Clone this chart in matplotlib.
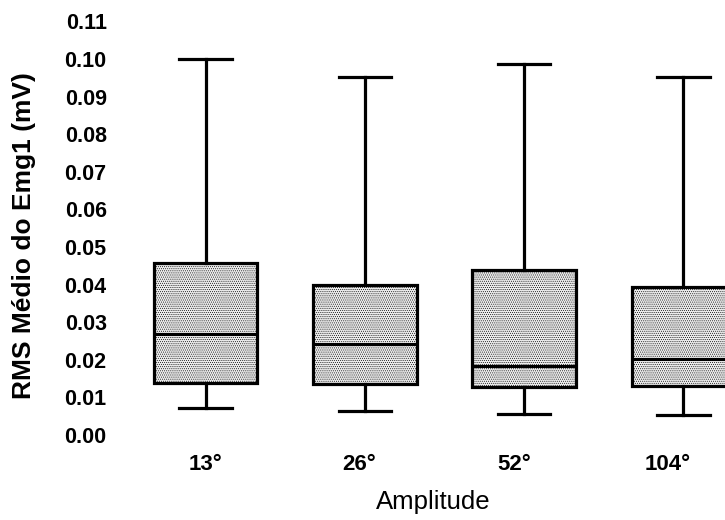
import matplotlib
matplotlib.use("Agg")
import matplotlib.pyplot as plt

plt.rcParams['font.family'] = ['Liberation Sans', 'DejaVu Sans']
plt.rcParams['hatch.linewidth'] = 0.4
plt.rcParams['hatch.color'] = '#777777'

# amplitudes and box statistics (mV)
amplitudes = ['13°', '26°', '52°', '104°']
whis_lo = [0.0071, 0.0065, 0.0056, 0.0054]
q1 = [0.0137, 0.0136, 0.0127, 0.0129]
median = [0.0269, 0.0242, 0.0184, 0.0202]
q3 = [0.0457, 0.0399, 0.0439, 0.0394]
whis_hi = [0.0999, 0.0953, 0.0988, 0.0952]

stats = []
for i, lab in enumerate(amplitudes):
    stats.append(dict(label=lab, whislo=whis_lo[i], q1=q1[i], med=median[i],
                      q3=q3[i], whishi=whis_hi[i], fliers=[]))

fig = plt.figure(figsize=(7.25, 5.2), dpi=100)
ax = fig.add_axes([120/725, 70/520, 626/725, 440/520])

pos = [1, 2, 3, 4]
ax.bxp(stats, positions=pos, widths=0.65, capwidths=0.33, patch_artist=True,
       showfliers=False,
       boxprops=dict(facecolor='#ececec', edgecolor='black', linewidth=2.3,
                     hatch='........'),
       medianprops=dict(color='black', linewidth=2.2),
       whiskerprops=dict(color='black', linewidth=2.3),
       capprops=dict(color='black', linewidth=2.3))

ax.set_xlim(0.4617, 4.394)
ax.set_ylim(-0.004, 0.11303)

yt = [i / 100 for i in range(12)]
ax.set_yticks(yt)
ax.set_yticklabels([f'{v:.2f}' for v in yt], fontsize=15.5, fontweight='bold')
# category labels sit a little left of the boxes
ax.set_xticks([1.0, 1.965, 2.937, 3.904])
ax.set_xticklabels(amplitudes, fontsize=16, fontweight='bold')
ax.tick_params(axis='y', length=0, pad=9.6)
ax.tick_params(axis='x', length=0, pad=3)

for s in ax.spines.values():
    s.set_visible(False)

ax.set_xlabel('Amplitude', fontsize=18.5, labelpad=11)
fig.text(24/725, 1 - 235.5/520, 'RMS Médio do Emg1 (mV)', rotation=90,
         ha='center', va='center', fontsize=19, fontweight='bold')

fig.savefig('out.png', dpi=100)
